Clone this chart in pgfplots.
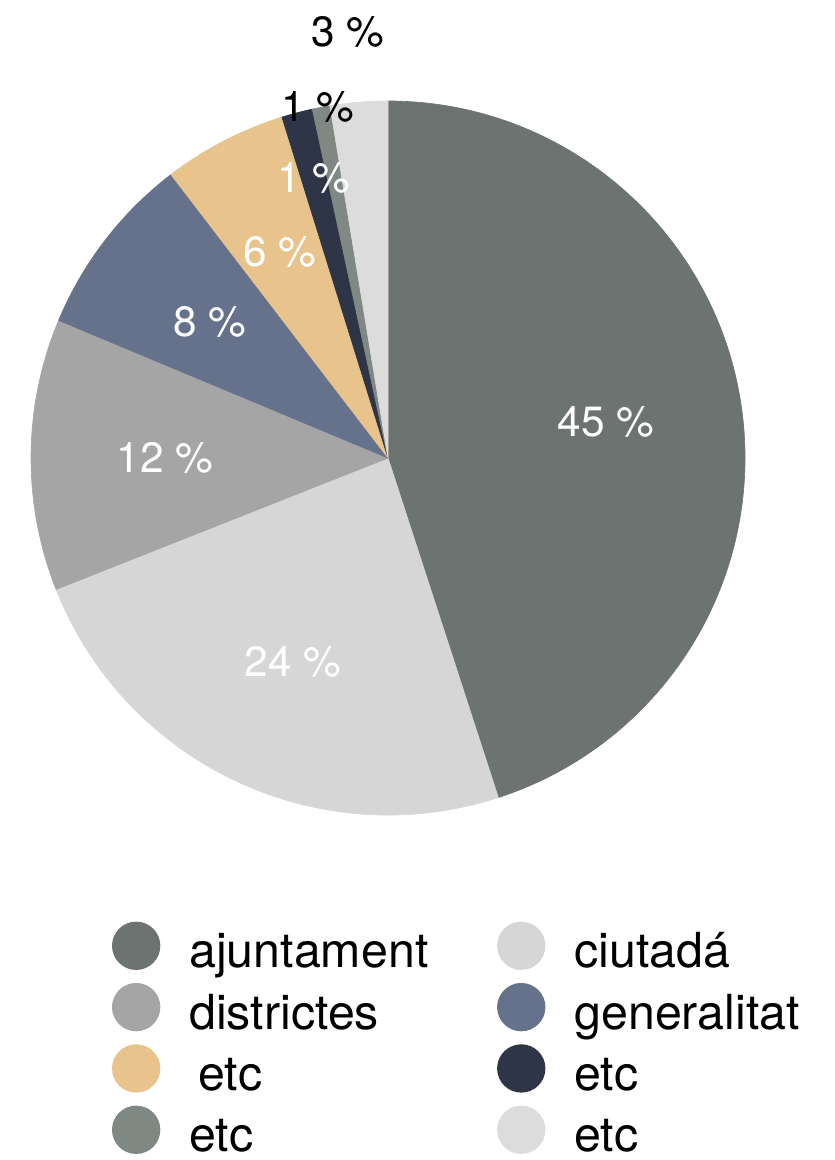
\documentclass[border=0pt]{standalone}
\usepackage{fontspec}
\setmainfont{TeX Gyre Heros}
\usepackage{pgfplots}
\usepackage{pgfplotstable}
\pgfplotsset{compat=1.18}
\definecolor{cAj}{HTML}{6D7370}
\definecolor{cCi}{HTML}{D6D6D6}
\definecolor{cDi}{HTML}{A5A5A5}
\definecolor{cGe}{HTML}{66728C}
\definecolor{cEa}{HTML}{E8C38B}
\definecolor{cEb}{HTML}{2E3546}
\definecolor{cEc}{HTML}{7F8883}
\definecolor{cEd}{HTML}{DCDCDC}
\pgfplotstableread{
pct col
45.0 cAj
24.0 cCi
12.3 cDi
8.3 cGe
5.6 cEa
1.4 cEb
0.8 cEc
2.6 cEd
}\piedata
\begin{document}
\begin{tikzpicture}
\begin{axis}[
  width=250.2pt, height=348pt, scale only axis,
  xmin=0, xmax=834, ymin=0, ymax=1160, y dir=reverse,
  hide axis, clip=false,
  legend columns=2,
  legend image code/.code={\fill[#1] (7.05pt,0pt) circle (7.05pt);},
  legend style={at={(0.1343,0.2055)}, anchor=north west, draw=none, fill=none,
    inner sep=0pt, outer sep=0pt,
    font=\fontsize{14.5}{17}\selectfont,
    cells={anchor=west},
    nodes={inner sep=0pt, outer sep=0pt, text height=13.2pt, text depth=0pt},
    row sep=3.9pt,
    /tikz/every odd column/.append style={column sep=8.7pt},
    /tikz/every even column/.append style={column sep=20.6pt}},
]
\coordinate (bbA) at (axis cs:0,1160);
\coordinate (bbB) at (axis cs:834,0);
\def\cum{0}
\pgfplotsforeachungrouped \i in {0,...,7}{%
  \pgfplotstablegetelem{\i}{pct}\of\piedata \let\p\pgfplotsretval
  \pgfplotstablegetelem{\i}{col}\of\piedata \let\col\pgfplotsretval
  \pgfmathsetmacro\a{90-3.6*\cum}%
  \pgfmathsetmacro\b{90-3.6*(\cum+\p)}%
  \edef\temp{\noexpand\filldraw[fill=\col, draw=\col, line width=0.2pt] (axis cs:388,458) -- ++(\a:107.1pt) arc[start angle=\a, end angle=\b, radius=107.1pt] -- cycle;}%
  \temp
  \pgfmathsetmacro\cum{\cum+\p}%
}
\tikzset{lab/.style={font=\fontsize{12.7}{15}\selectfont, inner sep=0pt}}
\node[lab, white] at (axis cs:606,422) {45 \%};
\node[lab, white] at (axis cs:293,662) {24 \%};
\node[lab, white] at (axis cs:165,458) {12 \%};
\node[lab, white] at (axis cs:210,322) {8 \%};
\node[lab, white] at (axis cs:280,252) {6 \%};
\node[lab, white] at (axis cs:314,178) {1 \%};
\node[lab, black] at (axis cs:318,107) {1 \%};
\node[lab, black] at (axis cs:348,32) {3 \%};
\addlegendimage{cAj}\addlegendentry{ajuntament}
\addlegendimage{cCi}\addlegendentry{ciutadá}
\addlegendimage{cDi}\addlegendentry{districtes}
\addlegendimage{cGe}\addlegendentry{generalitat}
\addlegendimage{cEa}\addlegendentry{\hspace{2.7pt}etc}
\addlegendimage{cEb}\addlegendentry{etc}
\addlegendimage{cEc}\addlegendentry{etc}
\addlegendimage{cEd}\addlegendentry{etc}
\end{axis}
\pgfresetboundingbox
\path[use as bounding box] (bbA) rectangle (bbB);
\end{tikzpicture}
\end{document}
